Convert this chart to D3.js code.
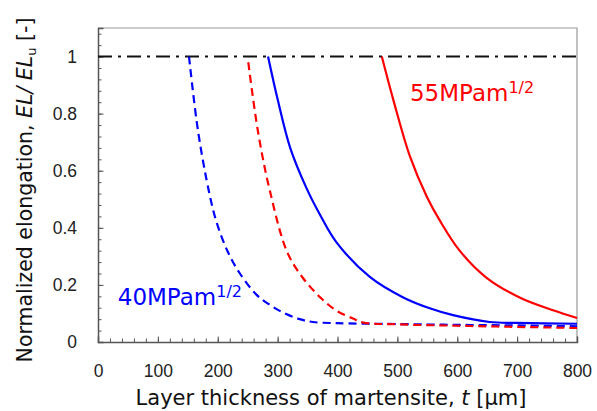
<!DOCTYPE html>
<html>
<head>
<meta charset="utf-8">
<script src="https://cdn.jsdelivr.net/npm/d3@7"></script>
<style>
  body { margin: 0; background: #fff; }
  svg { font-family: "DejaVu Sans", Verdana, sans-serif; }
  .axis path, .axis line { stroke: #555; }
  .axis text { fill: #222; font-size: 17.5px; }
</style>
</head>
<body>
<main></main>
<script>
// thickness t [um] and normalized elongation
const blueDashT = [152, 167, 186, 198, 217, 237, 265, 287, 312, 337, 359, 400, 500, 600, 700, 800]
const blueDashV = [1.0, 0.74, 0.52, 0.42, 0.315, 0.24, 0.165, 0.13, 0.10, 0.08, 0.07, 0.066, 0.063, 0.06, 0.058, 0.055]
const redDashT = [251, 267, 287, 316, 342, 371, 398, 426, 443, 500, 600, 700, 800]
const redDashV = [0.98, 0.74, 0.53, 0.315, 0.225, 0.157, 0.11, 0.082, 0.068, 0.062, 0.057, 0.053, 0.049]
const blueSolidT = [284, 300, 321, 348, 371, 398, 454, 509, 554, 593, 654, 700, 800]
const blueSolidV = [1.0, 0.85, 0.68, 0.54, 0.445, 0.35, 0.228, 0.157, 0.118, 0.094, 0.07, 0.067, 0.064]
const redSolidT = [474, 493, 521, 549, 571, 604, 649, 705, 760, 800]
const redSolidV = [1.0, 0.85, 0.65, 0.51, 0.425, 0.32, 0.225, 0.155, 0.111, 0.084]
const xTicks = [0, 100, 200, 300, 400, 500, 600, 700, 800]
const yTicks = [0, 0.2, 0.4, 0.6, 0.8, 1]

const W = 597, H = 411
const margin = {top: 28, right: 20, bottom: 69, left: 98}
const width = W - margin.left - margin.right
const height = H - margin.top - margin.bottom

const x = d3.scaleLinear().domain([0, 800]).range([0, width])
const y = d3.scaleLinear().domain([0, 1.1]).range([height, 0])

const svg = d3.select('main').append('svg')
  .attr('width', W)
  .attr('height', H)
const g = svg.append('g').attr('transform', `translate(${margin.left},${margin.top})`)

// frame (top and right)
g.append('path')
  .attr('d', `M0,0H${width}V${height}`)
  .attr('fill', 'none')
  .attr('stroke', '#999')
  .attr('stroke-width', 1.2)

// minor ticks
g.append('g').attr('class', 'axis')
  .attr('transform', `translate(0,${height})`)
  .call(d3.axisBottom(x).tickValues(d3.range(0, 801, 20)).tickSize(-3.5).tickFormat(''))
g.append('g').attr('class', 'axis')
  .call(d3.axisLeft(y).tickValues(d3.range(0, 1.09, 0.04)).tickSize(-3.5).tickFormat(''))

// major ticks + labels
g.append('g').attr('class', 'axis')
  .attr('transform', `translate(0,${height})`)
  .call(d3.axisBottom(x).tickValues(xTicks).tickSize(-5.5).tickPadding(23).tickFormat(d3.format('d')))
  .call(a => a.select('.domain').attr('stroke-width', 1.5))
g.append('g').attr('class', 'axis')
  .call(d3.axisLeft(y).tickValues(yTicks).tickSize(-5.5).tickPadding(21).tickFormat(d => d === 0 || d === 1 ? d : d.toFixed(1)))
  .call(a => a.select('.domain').attr('stroke-width', 1.5))

// reference line at 1
g.append('line')
  .attr('x1', 0).attr('x2', width)
  .attr('y1', y(1)).attr('y2', y(1))
  .attr('stroke', '#111')
  .attr('stroke-width', 2)
  .attr('stroke-dasharray', '14,6,3,6')

const line = d3.line()
  .x(d => x(d[0]))
  .y(d => y(d[1]))
  .curve(d3.curveCatmullRom.alpha(0.5))

const series = [
  {t: blueDashT, v: blueDashV, color: '#0000ff', dash: '8,5'},
  {t: redDashT, v: redDashV, color: '#ff0000', dash: '8,5'},
  {t: blueSolidT, v: blueSolidV, color: '#0000ff', dash: null},
  {t: redSolidT, v: redSolidV, color: '#ff0000', dash: null}
]

g.selectAll('.curve')
  .data(series)
  .enter().append('path')
    .attr('class', 'curve')
    .attr('fill', 'none')
    .attr('stroke', d => d.color)
    .attr('stroke-width', 2.2)
    .attr('stroke-dasharray', d => d.dash)
    .attr('d', d => line(d.t.map((t, i) => [t, d.v[i]])))

// annotations
const notes = [
  {text: '55MPam', t: 521, v: 0.846, color: '#ff0000'},
  {text: '40MPam', t: 33, v: 0.128, color: '#0000ff'}
]
const note = g.selectAll('.note')
  .data(notes)
  .enter().append('text')
    .attr('class', 'note')
    .attr('x', d => x(d.t))
    .attr('y', d => y(d.v))
    .attr('fill', d => d.color)
    .style('font-size', '23px')
note.append('tspan').text(d => d.text)
note.append('tspan').attr('dy', -8).style('font-size', '16px').text('1/2')

// axis titles
svg.append('text')
  .attr('x', 331)
  .attr('y', 405)
  .attr('text-anchor', 'middle')
  .style('font-size', '21px')
  .attr('fill', '#111')
  .call(t => {
    t.append('tspan').text('Layer thickness of martensite, ')
    t.append('tspan').style('font-style', 'italic').text('t')
    t.append('tspan').text(' [μm]')
  })

svg.append('text')
  .attr('transform', 'translate(32,190) rotate(-90)')
  .attr('text-anchor', 'middle')
  .style('font-size', '20.5px')
  .attr('fill', '#111')
  .call(t => {
    t.append('tspan').text('Normalized elongation, ')
    t.append('tspan').style('font-style', 'italic').text('EL/ EL')
    t.append('tspan').attr('dy', 4).style('font-size', '13px').text('u')
    t.append('tspan').attr('dy', -4).text(' [-]')
  })
</script>
</body>
</html>
